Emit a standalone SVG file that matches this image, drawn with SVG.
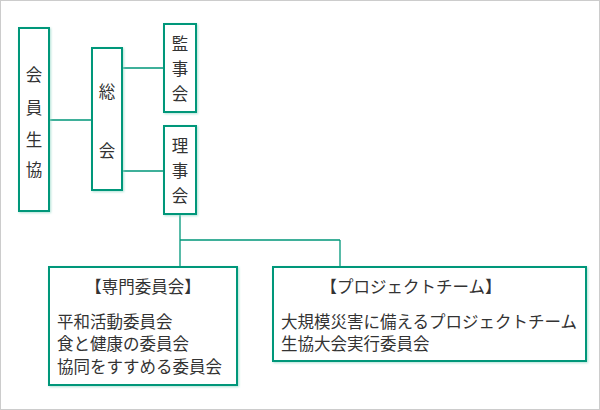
<svg xmlns="http://www.w3.org/2000/svg" width="600" height="410" viewBox="0 0 600 410">
<defs>
<filter id="sh" x="-20%" y="-20%" width="140%" height="140%"><feDropShadow dx="1" dy="1" stdDeviation="1.2" flood-color="#8fd6c4" flood-opacity="0.7"/></filter>
<style>
.b{fill:#fff;stroke:#00977a;stroke-width:2;filter:url(#sh)}
.t{font-family:"Noto Sans CJK JP",sans-serif;font-size:16.5px;fill:#333}
.c{font-family:"Noto Sans CJK JP",sans-serif;font-size:16.5px;fill:#333;text-anchor:middle}
.l{stroke:#00977a;stroke-width:1.3;fill:none}
</style>
</defs>
<rect x="0.5" y="0.5" width="599" height="409" fill="#fff" stroke="#ccc"/>
<g id="connectors">
<path class="l" d="M49 120H92M122 68H164M122 171H164M180 214V240M180 240H340M180 240V267M340 240V267"/>
</g>
<g id="kaiin"><rect class="b" x="19" y="28" width="30" height="183"/>
<text class="c" x="34" y="81">会</text><text class="c" x="34" y="114">員</text><text class="c" x="34" y="146">生</text><text class="c" x="34" y="176">協</text></g>
<g id="soukai"><rect class="b" x="92" y="48" width="30" height="142"/>
<text class="c" x="107" y="98">総</text><text class="c" x="107" y="157">会</text></g>
<g id="kanji"><rect class="b" x="164" y="24" width="32" height="88"/>
<text class="c" x="180" y="50">監</text><text class="c" x="180" y="75">事</text><text class="c" x="180" y="100">会</text></g>
<g id="riji"><rect class="b" x="164" y="126" width="32" height="88"/>
<text class="c" x="180" y="152">理</text><text class="c" x="180" y="177">事</text><text class="c" x="180" y="202">会</text></g>
<g id="senmon"><rect class="b" x="49" y="267" width="188" height="118"/>
<text class="c" x="143" y="293">【専門委員会】</text>
<text class="t" x="57" y="328">平和活動委員会</text>
<text class="t" x="57" y="350">食と健康の委員会</text>
<text class="t" x="57" y="373">協同をすすめる委員会</text></g>
<g id="project"><rect class="b" x="273" y="267" width="313" height="94"/>
<text class="c" x="411" y="293">【プロジェクトチーム】</text>
<text class="t" x="281" y="328">大規模災害に備えるプロジェクトチーム</text>
<text class="t" x="281" y="350">生協大会実行委員会</text></g>
</svg>
